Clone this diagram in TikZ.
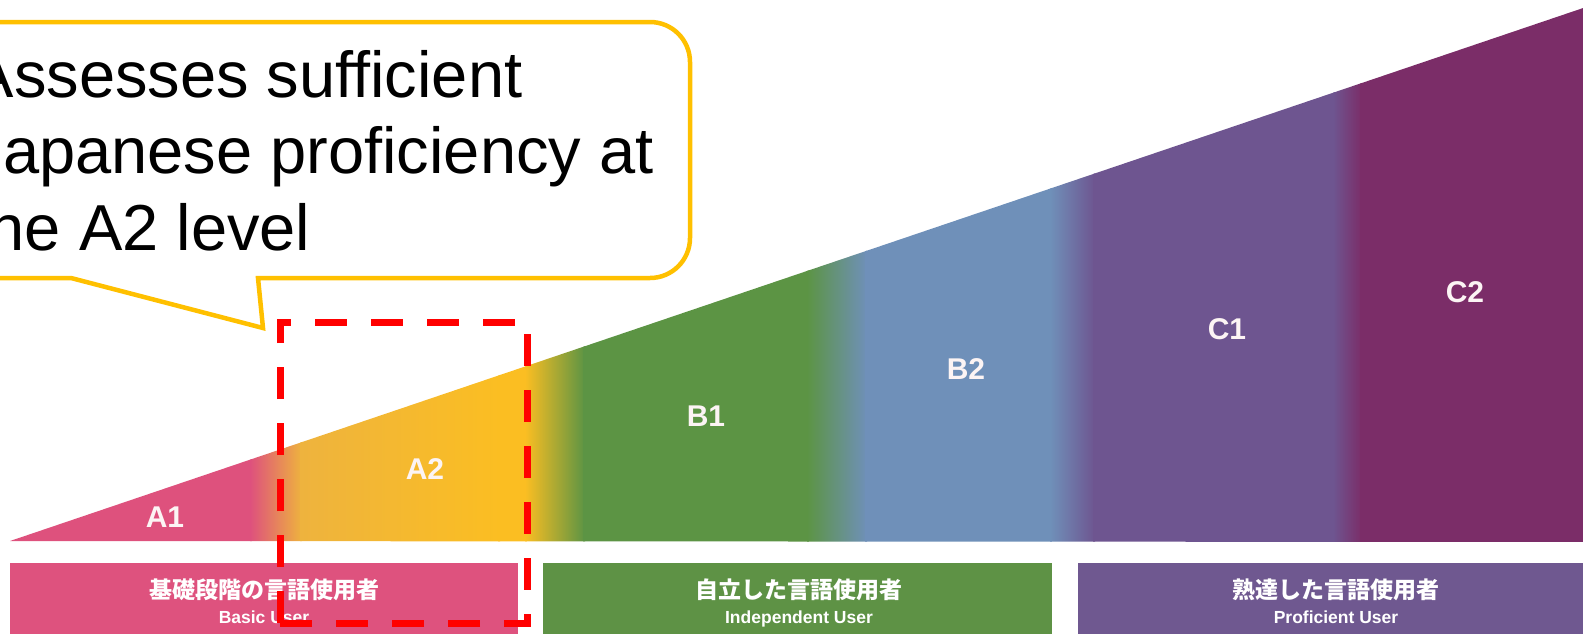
\documentclass[tikz,border=0pt]{standalone}
\usepackage{fontspec}
\setmainfont{Liberation Sans}
\newfontfamily\jpfont{Noto Sans CJK JP}
\definecolor{cA1}{HTML}{DE517D}
\definecolor{cA2a}{HTML}{EEB33E}
\definecolor{cA2b}{HTML}{FBBE22}
\definecolor{cB1}{HTML}{5C9444}
\definecolor{cB2}{HTML}{6F90B9}
\definecolor{cC1}{HTML}{6E5590}
\definecolor{cC2}{HTML}{7B2D68}
\definecolor{bxPink}{HTML}{DE527E}
\definecolor{bxGreen}{HTML}{5E9245}
\definecolor{bxPurple}{HTML}{6F5890}
\definecolor{callgold}{HTML}{FFC000}
\definecolor{redd}{HTML}{FF0000}
\definecolor{lvltxt}{HTML}{FCF4F4}
\tikzset{
  lvl/.style={text=lvltxt, font=\bfseries\fontsize{30}{36}\selectfont, inner sep=0pt, anchor=center},
  jplbl/.style={text=white, font=\jpfont\bfseries\fontsize{23}{28}\selectfont, inner sep=0pt, anchor=base},
  enlbl/.style={text=white, font=\bfseries\fontsize{17.5}{21}\selectfont, inner sep=0pt, anchor=base},
  calltxt/.style={text=black, font=\fontsize{65}{78}\selectfont, inner sep=0pt, anchor=base west},
  callout/.style={draw=callgold, line width=4.5pt, fill=white, line join=miter},
  reddash/.style={draw=redd, line width=7pt, dash pattern=on 32pt off 24pt},
}
\begin{document}
\begin{tikzpicture}[x=1pt,y=-1pt]
\useasboundingbox (0,0) rectangle (1583,633);
\begin{scope}
\clip (0,0) rectangle (1583,633);
% triangle with colour bands
\begin{scope}
\clip (10,541) -- (1600,2.3) -- (1600,542) -- cycle;
\fill[cA1] (0,0) rectangle (252,545);
\shade[left color=cA1, right color=cA2a] (250,0) rectangle (302,545);
\shade[left color=cA2a, right color=cA2b] (300,0) rectangle (500,545);
\fill[cA2b] (498,0) rectangle (527,545);
\shade[left color=cA2b, right color=cB1] (525,0) rectangle (585,545);
\fill[cB1] (583,0) rectangle (809,545);
\shade[left color=cB1, right color=cB2] (807,0) rectangle (867,545);
\fill[cB2] (865,0) rectangle (1052,545);
\shade[left color=cB2, right color=cC1] (1050,0) rectangle (1095,545);
\fill[cC1] (1093,0) rectangle (1335,545);
\shade[left color=cC1, right color=cC2] (1333,0) rectangle (1362,545);
\fill[cC2] (1360,0) rectangle (1600,545);
\end{scope}
% level labels
\node[lvl] (A1) at (165,517) {A1};
\node[lvl] (A2) at (425,469) {A2};
\node[lvl] (B1) at (706,416) {B1};
\node[lvl] (B2) at (966,369) {B2};
\node[lvl] (C1) at (1227,329) {C1};
\node[lvl] (C2) at (1465,292) {C2};
% bottom boxes
\fill[bxPink] (10,563) rectangle (518,640);
\fill[bxGreen] (543,563) rectangle (1052,640);
\fill[bxPurple] (1078,563) rectangle (1600,640);
\node[jplbl] (j1) at (264,598) {基礎段階の言語使用者};
\node[enlbl] (e1) at (264,623) {Basic User};
\node[jplbl] (j2) at (799,598) {自立した言語使用者};
\node[enlbl] (e2) at (799,623) {Independent User};
\node[jplbl] (j3) at (1336,598) {熟達した言語使用者};
\node[enlbl] (e3) at (1336,623) {Proficient User};
% red dashed frame
\draw[reddash] (280,623) -- (280,322) -- (527,322) -- (527,623) -- cycle;
% callout
\draw[callout] (-60,22) -- (650,22) .. controls (672.1,22) and (690,39.9) .. (690,62)
  -- (690,238) .. controls (690,260.1) and (672.1,278) .. (650,278)
  -- (258,278) -- (263,328) -- (71,278) -- (-60,278) -- cycle;
\node[calltxt] (t1) at (-29.5,97) {Assesses sufficient};
\node[calltxt] (t2) at (-29.5,173) {Japanese proficiency at};
\node[calltxt] (t3) at (-29.5,250) {the A2 level};
\end{scope}
\end{tikzpicture}
\end{document}
